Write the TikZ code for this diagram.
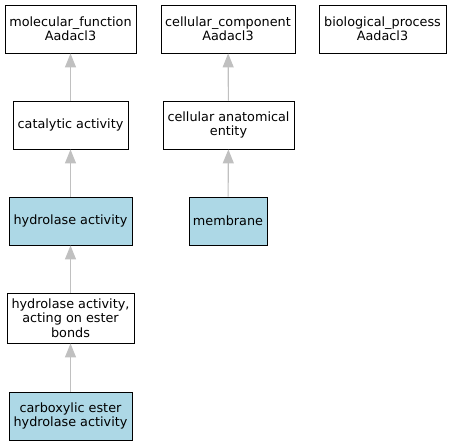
\documentclass[tikz,border=0pt]{standalone}
\usepackage{fontspec}
\setmainfont{DejaVu Sans}
\usepackage{tikz}
\usetikzlibrary{arrows.meta,positioning}
\usepackage{xcolor}
\definecolor{termblue}{HTML}{ADD8E6}
\definecolor{edgegray}{HTML}{C0C0C0}

\tikzset{
  term/.style={draw=black, line width=0.9pt, fill=white, minimum height=48pt, inner sep=0pt, align=center, font=\fontsize{12.8}{14.3}\selectfont},
  hit/.style={term, fill=termblue},
  isa/.style={draw=edgegray, line width=1.1pt, -{Triangle[width=11pt,length=14pt]}}
}

\begin{document}
\begin{tikzpicture}[x=1pt,y=-1pt]
\useasboundingbox (0,0) rectangle (451,445);

%Root terms
\node[term, minimum width=131pt] (mf) at (70.5,29) {molecular\_function\\Aadacl3};
\node[term, minimum width=134pt] (cc) at (228,29) {cellular\_component\\Aadacl3};
\node[term, minimum width=127pt] (bp) at (382.5,29) {biological\_process\\Aadacl3};

%Second level
\node[term, minimum width=115pt] (cat) at (70.5,125) {catalytic activity};
\node[term, minimum width=131pt] (cae) at (228.5,125) {cellular anatomical\\entity};

%Third level
\node[hit, minimum width=123pt] (hyd) at (70.5,221) {hydrolase activity};
\node[hit, minimum width=78pt] (mem) at (228,221) {membrane};

%Fourth level
\node[term, minimum width=127pt, minimum height=50pt] (hae) at (70.5,318) {hydrolase activity,\\acting on ester\\bonds};

%Leaf
\node[hit, minimum width=123pt] (ceh) at (70.5,416) {carboxylic ester\\hydrolase activity};

%is_a edges
\draw[isa] (cat) -- (mf);
\draw[isa] (hyd) -- (cat);
\draw[isa] (hae) -- (hyd);
\draw[isa] (ceh) -- (hae);
\draw[isa] (cae) -- (cc);
\draw[isa] (mem) -- (cae);
\end{tikzpicture}
\end{document}
